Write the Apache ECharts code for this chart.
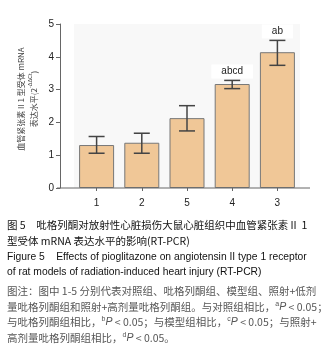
<!DOCTYPE html>
<html lang="zh">
<head>
    <meta charset="UTF-8" />
    <title>Figure 5</title>
    <script src="https://cdn.jsdelivr.net/npm/echarts@6/dist/echarts.min.js"></script>
    <style>
        html, body { margin: 0; padding: 0; background: #fff; }
    </style>
</head>
<body>
    <div id="main" style="width: 335px; height: 351px"></div>
    <script>
        // 组别（横轴顺序按原图）
        var groups = ["1", "2", "5", "4", "3"];
        var means = [1.31, 1.38, 2.13, 3.17, 4.14];
        var errUp = [1.57, 1.67, 2.51, 3.28, 4.50];
        var errLow = [1.06, 1.06, 1.74, 3.03, 3.74];
        var sigLabels = ["", "", "", "abcd", "ab"];

        var captionLines = [
            "图 5　吡格列酮对放射性心脏损伤大鼠心脏组织中血管紧张素 II  1",
            "型受体 mRNA 表达水平的影响(RT-PCR)",
            "Figure 5    Effects of pioglitazone on angiotensin II type 1 receptor",
            "of rat models of radiation-induced heart injury (RT-PCR)"
        ];
        var noteLines = [
            "图注：图中 1-5 分别代表对照组、吡格列酮组、模型组、照射+低剂",
            "量吡格列酮组和照射+高剂量吡格列酮组。与对照组相比，{s|a}{i|P} < 0.05；",
            "与吡格列酮组相比，{s|b}{i|P} < 0.05；与模型组相比，{s|c}{i|P} < 0.05；与照射+",
            "高剂量吡格列酮组相比，{s|d}{i|P} < 0.05。"
        ];

        var chart = echarts.init(document.getElementById("main"));

        var errData = groups.map(function (g, i) {
            return [i, errLow[i], errUp[i]];
        });

        var graphics = [];
        // 横轴线（比绘图区略长）
        graphics.push({
            type: "line",
            shape: { x1: 57, y1: 188, x2: 310, y2: 188 },
            style: { stroke: "#666", lineWidth: 1 },
            z: 10
        });
        // 纵轴标题
        graphics.push({
            type: "text",
            x: 27,
            y: 99,
            rotation: Math.PI / 2,
            style: {
                text: "{t|血管紧张素 II 1 型受体 mRNA}\n{t|表达水平(2}{sup|-ΔΔCt}{t|)}",
                align: "center",
                verticalAlign: "middle",
                rich: {
                    t: { fontSize: 8, fill: "#444", lineHeight: 13, fontFamily: "Noto Sans CJK SC" },
                    sup: { fontSize: 5.5, fill: "#444", lineHeight: 13, verticalAlign: "top", padding: [0, 0, 5, 0] }
                }
            }
        });
        var capFonts = [
            "10.5px 'Noto Sans CJK SC', sans-serif",
            "10.5px 'Noto Sans CJK SC', sans-serif",
            "10.3px 'Liberation Sans', sans-serif",
            "10.3px 'Liberation Sans', sans-serif"
        ];
        captionLines.forEach(function (t, i) {
            graphics.push({
                type: "text",
                x: 7,
                y: [225, 241, 257, 272][i],
                style: {
                    text: t,
                    fill: "#111",
                    font: capFonts[i],
                    verticalAlign: "middle"
                }
            });
        });
        noteLines.forEach(function (t, i) {
            graphics.push({
                type: "text",
                x: 7,
                y: [291, 307, 322, 338][i],
                style: {
                    text: t,
                    fill: "#555",
                    font: "10.5px 'Noto Sans CJK SC', sans-serif",
                    verticalAlign: "middle",
                    rich: {
                        s: { fontSize: 7, verticalAlign: "top", fill: "#555", padding: [0, 0, 5, 0] },
                        i: { fontStyle: "italic", fontSize: 10.5, fill: "#555", fontFamily: "Liberation Sans" }
                    }
                }
            });
        });

        var option = {
            animation: false,
            backgroundColor: "#fff",
            grid: {
                left: 74,
                right: 35,
                top: 24,
                bottom: 163,
                show: true,
                backgroundColor: "#f8f8f8",
                borderWidth: 0
            },
            xAxis: {
                type: "category",
                data: groups,
                axisLine: { show: false },
                axisTick: { show: true, alignWithLabel: true, length: 3, lineStyle: { color: "#666" } },
                axisLabel: { color: "#222", fontSize: 10, margin: 10, fontFamily: "Liberation Sans" }
            },
            yAxis: {
                type: "value",
                min: 0,
                max: 5,
                interval: 1,
                offset: 14,
                splitLine: { show: false },
                axisLine: { show: true, lineStyle: { color: "#666" } },
                axisTick: { show: true, length: 4, lineStyle: { color: "#666" } },
                axisLabel: { color: "#222", fontSize: 10, margin: 6, fontFamily: "Liberation Sans" }
            },
            series: [
                {
                    type: "bar",
                    data: means,
                    barWidth: 35,
                    itemStyle: { color: "#f0c797", borderColor: "#777", borderWidth: 1 },
                    z: 2
                },
                {
                    type: "custom",
                    data: errData,
                    z: 3,
                    renderItem: function (params, api) {
                        var x = api.value(0);
                        var lo = api.coord([x, api.value(1)]);
                        var hi = api.coord([x, api.value(2)]);
                        var hw = 8;
                        var lbl = sigLabels[x];
                        var children = [
                            { type: "line", shape: { x1: hi[0], y1: hi[1], x2: lo[0], y2: lo[1] }, style: { stroke: "#444", lineWidth: 1.5 } },
                            { type: "line", shape: { x1: hi[0] - hw, y1: hi[1], x2: hi[0] + hw, y2: hi[1] }, style: { stroke: "#444", lineWidth: 1.5 } },
                            { type: "line", shape: { x1: lo[0] - hw, y1: lo[1], x2: lo[0] + hw, y2: lo[1] }, style: { stroke: "#444", lineWidth: 1.5 } }
                        ];
                        if (lbl) {
                            children.push({
                                type: "text",
                                x: hi[0],
                                y: hi[1] - 9,
                                style: {
                                    text: lbl,
                                    fill: "#222",
                                    font: "10px 'Liberation Sans', sans-serif",
                                    align: "center",
                                    verticalAlign: "middle",
                                    backgroundColor: "#fff",
                                    padding: [2, 10]
                                }
                            });
                        }
                        return { type: "group", children: children };
                    }
                }
            ],
            graphic: graphics
        };
        chart.setOption(option);
    </script>
</body>
</html>
